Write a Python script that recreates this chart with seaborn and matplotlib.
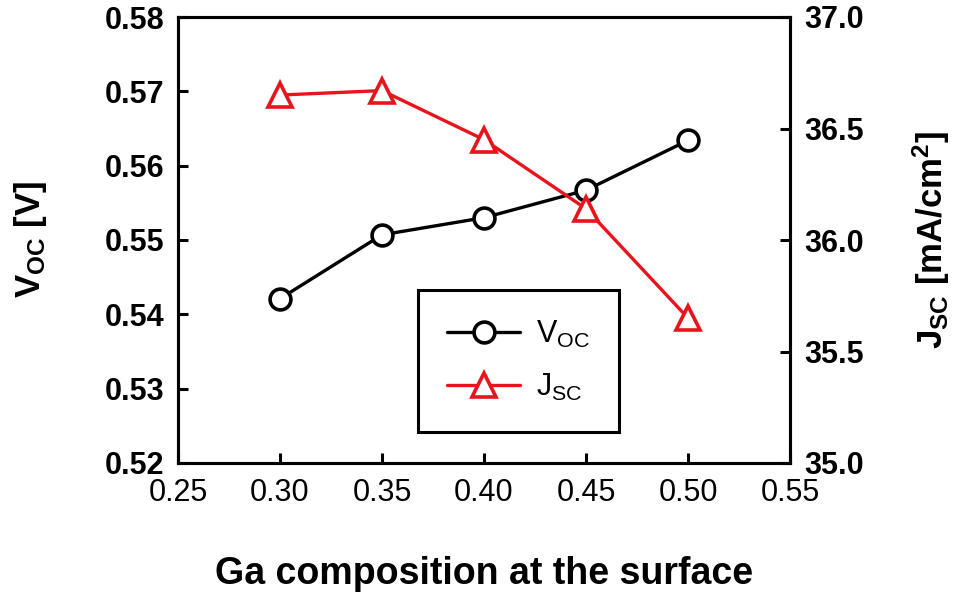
import matplotlib
matplotlib.use("Agg")
import matplotlib.pyplot as plt
import seaborn as sns

# Measured device parameters versus surface Ga composition
ga_composition = [0.30, 0.35, 0.40, 0.45, 0.50]
voc = [0.5421, 0.5507, 0.5530, 0.5567, 0.5634]
jsc = [36.65, 36.67, 36.45, 36.14, 35.65]

x_ticks = [0.25, 0.30, 0.35, 0.40, 0.45, 0.50, 0.55]
voc_ticks = [0.52, 0.53, 0.54, 0.55, 0.56, 0.57, 0.58]
jsc_ticks = [35.0, 35.5, 36.0, 36.5, 37.0]

sns.set_theme(style="ticks")
plt.rcParams["font.family"] = ["Liberation Sans", "DejaVu Sans"]
plt.rcParams["mathtext.default"] = "regular"
for key in ("text.color", "axes.labelcolor", "xtick.color", "ytick.color",
            "axes.edgecolor"):
    plt.rcParams[key] = "black"

fig = plt.figure(figsize=(9.61, 5.96), dpi=100)
ax = fig.add_axes([178 / 961, 1 - 463 / 596, (790 - 178) / 961, (463 - 17) / 596])
ax2 = ax.twinx()

sns.lineplot(x=ga_composition, y=voc, ax=ax, color="black", linewidth=2.4,
             marker="o", markersize=15, markerfacecolor="white",
             markeredgecolor="black", markeredgewidth=2.6,
             label=r"V$_{OC}$", legend=False)
sns.lineplot(x=ga_composition, y=jsc, ax=ax2, color="#e8141c", linewidth=2.4,
             marker="^", markersize=17, markerfacecolor="white",
             markeredgecolor="#e8141c", markeredgewidth=2.6,
             label=r"J$_{SC}$", legend=False)

ax.set_xlim(0.25, 0.55)
ax.set_ylim(0.52, 0.58)
ax2.set_ylim(35.0, 37.0)
ax.set_xticks(x_ticks)
ax.set_xticklabels([f"{v:.2f}" for v in x_ticks], fontsize=22)
ax.set_yticks(voc_ticks)
ax.set_yticklabels([f"{v:.2f}" for v in voc_ticks], fontsize=22, fontweight="bold")
ax2.set_yticks(jsc_ticks)
ax2.set_yticklabels([f"{v:.1f}" for v in jsc_ticks], fontsize=22, fontweight="bold")

for a in (ax, ax2):
    for s in a.spines.values():
        s.set_linewidth(2.2)
        s.set_color("black")
ax.tick_params(axis="both", direction="in", length=7, width=2.2, color="black", pad=10)
ax.tick_params(axis="x", pad=11)
ax2.tick_params(axis="y", direction="in", length=7, width=2.2, color="black", pad=10)

ax.set_xlabel("Ga composition at the surface", fontsize=27, fontweight="bold", labelpad=34)
ax.set_ylabel(r"V$_{OC}$ [V]", fontsize=25, fontweight="bold", labelpad=40)
ax2.set_ylabel(r"J$_{SC}$ [mA/cm$^{2}$]", fontsize=25, fontweight="bold",
               rotation=90, labelpad=34)

handles = ax.get_lines()[:1] + ax2.get_lines()[:1]
leg = fig.legend(handles, [r"V$_{OC}$", r"J$_{SC}$"], loc="lower left",
                 bbox_to_anchor=(418 / 961, 1 - 432 / 596), fontsize=22,
                 frameon=True, fancybox=False, framealpha=1, handlelength=2.4,
                 borderpad=0.95, labelspacing=0.72, handletextpad=0.5,
                 borderaxespad=0)
leg.get_frame().set_edgecolor("black")
leg.get_frame().set_linewidth(2.2)

fig.savefig("out.png", dpi=100, facecolor="white")
